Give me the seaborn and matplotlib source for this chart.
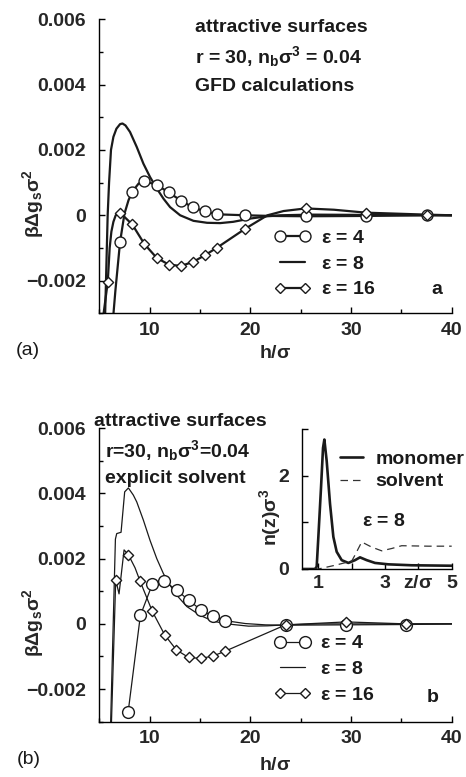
import matplotlib
matplotlib.use("Agg")
import matplotlib.pyplot as plt
import seaborn as sns
from matplotlib.lines import Line2D
from matplotlib.ticker import MultipleLocator

# ---------------- data ----------------
# panel (a): GFD calculations
a4_h = [6.3, 6.6, 7.06, 7.5, 7.9, 8.27, 8.9, 9.48, 10.69, 11.9, 13.1, 14.3, 15.5, 16.7, 19.5, 22.0, 25.5, 31.5, 37.5, 40.0]
a4_g = [-0.0034, -0.0023, -0.00082, 0.00005, 0.00046, 0.00072, 0.00097, 0.00105, 0.00093, 0.0007, 0.00045, 0.00024, 0.00012, 0.00003, 0.0, -0.00002, -0.00003, -0.00002, 0.0, 0.0]
a4_mh = [7.06, 8.27, 9.48, 10.69, 11.9, 13.1, 14.3, 15.5, 16.7, 19.5, 25.5, 31.5, 37.5]
a4_mg = [-0.00082, 0.00072, 0.00105, 0.00093, 0.0007, 0.00045, 0.00024, 0.00012, 0.00003, 0.0, -0.00003, -0.00002, 0.0]

a8_h = [5.5, 5.83, 5.97, 6.16, 6.4, 6.7, 7.06, 7.3, 7.6, 8.05, 8.72, 9.38, 10.04, 10.71, 11.37, 12.03, 13.03, 14.35, 15.7, 17.0, 18.3, 20.0, 21.7, 23.0, 26.0, 32.0, 40.0]
a8_g = [-0.004, 0.0, 0.001, 0.002, 0.0024, 0.00265, 0.00279, 0.00281, 0.00275, 0.00255, 0.00209, 0.00158, 0.00117, 0.00082, 0.00051, 0.00025, 0.0, -0.00017, -0.00023, -0.00024, -0.0002, -0.0001, -0.00003, 0.0, 0.00002, 0.00001, 0.0]

a16_h = [5.3, 5.84, 6.03, 6.2, 6.4, 6.63, 7.06, 8.27, 9.48, 10.69, 11.9, 13.1, 14.3, 15.5, 16.7, 19.5, 21.7, 23.3, 25.5, 28.3, 31.5, 37.5, 40.0]
a16_g = [-0.0033, -0.00204, -0.001, -0.0005, -0.0002, 0.0, 0.00008, -0.00028, -0.00088, -0.0013, -0.00151, -0.00155, -0.00143, -0.00122, -0.00099, -0.00041, 0.0, 0.00013, 0.00021, 0.00017, 0.00008, 0.00002, 0.0]
a16_mh = [5.84, 7.06, 8.27, 9.48, 10.69, 11.9, 13.1, 14.3, 15.5, 16.7, 19.5, 25.5, 31.5, 37.5]
a16_mg = [-0.00204, 0.00008, -0.00028, -0.00088, -0.0013, -0.00151, -0.00155, -0.00143, -0.00122, -0.00099, -0.00041, 0.00021, 0.00008, 0.00002]

# panel (b): explicit solvent
b4_h = [7.87, 9.08, 10.27, 11.47, 12.68, 13.9, 15.09, 16.28, 17.5, 19.5, 21.5, 23.5, 29.5, 35.5, 40.0]
b4_g = [-0.00269, 0.00026, 0.00122, 0.0013, 0.00104, 0.00072, 0.00043, 0.00023, 0.0001, 0.00001, -0.00003, -0.00004, -0.00003, -0.00002, 0.0]
b4_mh = [7.87, 9.08, 10.27, 11.47, 12.68, 13.9, 15.09, 16.28, 17.5, 23.5, 29.5, 35.5]
b4_mg = [-0.00269, 0.00026, 0.00122, 0.0013, 0.00104, 0.00072, 0.00043, 0.00023, 0.0001, -0.00004, -0.00003, -0.00002]

b8_h = [6.12, 6.6, 6.73, 7.16, 7.52, 7.89, 8.38, 8.72, 9.38, 10.04, 10.71, 11.37, 12.03, 12.86, 13.7, 15.02, 16.34, 17.68, 19.83, 21.7, 23.5, 27.0, 40.0]
b8_g = [-0.0031, 0.0026, 0.00277, 0.00281, 0.00405, 0.00417, 0.00395, 0.00374, 0.00318, 0.00256, 0.002, 0.00154, 0.00118, 0.00082, 0.00053, 0.00026, 0.00008, 0.0, -0.00007, -0.00006, -0.00003, 0.0, 0.0]

b16_h = [6.2, 6.63, 6.96, 7.46, 7.89, 8.55, 9.05, 10.27, 11.5, 12.66, 13.87, 15.06, 16.26, 17.48, 23.5, 29.5, 35.5, 40.0]
b16_g = [-0.0031, 0.00135, 0.00092, 0.00227, 0.00212, 0.00172, 0.00131, 0.00038, -0.00034, -0.0008, -0.00103, -0.00106, -0.00099, -0.00084, -0.00003, 0.00006, 0.0, 0.0]
b16_mh = [6.63, 7.89, 9.05, 10.27, 11.5, 12.66, 13.87, 15.06, 16.26, 17.48, 23.5, 29.5, 35.5]
b16_mg = [0.00135, 0.00212, 0.00131, 0.00038, -0.00034, -0.0008, -0.00103, -0.00106, -0.00099, -0.00084, -0.00003, 0.00006, 0.0]

# inset: density profiles at eps = 8
z_mono = [0.5, 0.9, 0.95, 1.0, 1.08, 1.14, 1.18, 1.25, 1.35, 1.45, 1.55, 1.7, 1.9, 2.1, 2.25, 2.45, 2.7, 3.1, 3.8, 5.0]
n_mono = [0.0, 0.0, 0.05, 0.69, 1.75, 2.6, 2.78, 2.32, 1.4, 0.69, 0.37, 0.19, 0.13, 0.19, 0.25, 0.19, 0.13, 0.1, 0.08, 0.07]
z_solv = [0.5, 1.0, 1.5, 2.0, 2.1, 2.3, 2.6, 2.9, 3.2, 3.5, 4.3, 5.0]
n_solv = [0.0, 0.0, 0.08, 0.17, 0.3, 0.58, 0.47, 0.39, 0.44, 0.5, 0.49, 0.49]

eps_labels = ['$\\mathrm{\\varepsilon}$ = 4', '$\\mathrm{\\varepsilon}$ = 8', '$\\mathrm{\\varepsilon}$ = 16']
inset_labels = ['monomer', 'solvent']
y_ticks = [-0.002, 0.0, 0.002, 0.004, 0.006]
y_ticklabels = ['\u22120.002', '0', '0.002', '0.004', '0.006']
x_ticks = [10, 20, 30, 40]
in_xticks = [1, 2, 3, 4, 5]
in_xticklabels = ['1', '', '3', 'z/$\\mathrm{\\sigma}$', '5']
in_yticks = [0, 1, 2, 3]
in_yticklabels = ['0', '', '2', '']

# ---------------- style ----------------
sns.set_theme(style='ticks')
plt.rcParams['font.family'] = ['Liberation Sans', 'DejaVu Sans']
plt.rcParams.update({
    'font.weight': 'bold',
    'font.size': 14,
    'axes.labelweight': 'bold',
    'axes.labelsize': 14,
    'xtick.labelsize': 14,
    'ytick.labelsize': 14,
    'mathtext.fontset': 'custom',
    'mathtext.rm': 'Liberation Sans',
    'mathtext.bf': 'Liberation Sans:bold',
    'mathtext.it': 'Liberation Sans:italic',
    'text.color': '#1a1a1a',
    'axes.edgecolor': 'black',
    'axes.linewidth': 1.0,
})
INK = '#1a1a1a'
DASH = '#333333'

fig = plt.figure(figsize=(4.66, 7.77), dpi=100)
axA = fig.add_axes([0.2131, 0.5968, 0.7562, 0.3784])
axB = fig.add_axes([0.2131, 0.0712, 0.7562, 0.3776])
axI = fig.add_axes([0.6474, 0.2677, 0.3219, 0.1798])


def curve(ax, h, g, lw):
    sns.lineplot(x=h, y=g, ax=ax, color=INK, lw=lw, estimator=None,
                 sort=False, legend=False, zorder=2)


def marks(ax, h, g, marker, s):
    sns.scatterplot(x=h, y=g, ax=ax, marker=marker, s=s, facecolor='white',
                    edgecolor=INK, linewidth=1.0, zorder=3, legend=False)


def frame(ax):
    ax.set_xlim(5, 40)
    ax.set_ylim(-0.003, 0.006)
    ax.set_xticks(x_ticks)
    ax.set_xticklabels([str(t) for t in x_ticks])
    ax.set_yticks(y_ticks, y_ticklabels)
    ax.xaxis.set_minor_locator(MultipleLocator(5))
    ax.yaxis.set_minor_locator(MultipleLocator(0.001))
    ax.tick_params(which='both', direction='in', width=1, color='black')
    ax.tick_params(which='major', length=4.5)
    ax.tick_params(which='minor', length=3)
    ax.tick_params(axis='y', which='major', pad=9.5)
    ax.tick_params(axis='x', which='major', pad=6)
    sns.despine(ax=ax)
    ax.set_xlabel('h/$\\mathrm{\\sigma}$')
    ax.set_ylabel('$\\mathrm{\\beta\\Delta}$g$_\\mathbf{s}\\mathrm{\\sigma}^\\mathbf{2}$')


# ---- panel a ----
curve(axA, a4_h, a4_g, 1.6)
curve(axA, a8_h, a8_g, 1.6)
curve(axA, a16_h, a16_g, 1.6)
marks(axA, a4_mh, a4_mg, 'o', 62)
marks(axA, a16_mh, a16_mg, 'D', 27)
frame(axA)
axA.xaxis.set_label_coords(0.5, -0.108)
axA.yaxis.set_label_coords(-0.152, 0.372)

hA = [Line2D([], [], color=INK, lw=1.6, marker='o', ms=7.9, mfc='white', mec=INK, mew=1.0),
      Line2D([], [], color=INK, lw=1.6),
      Line2D([], [], color=INK, lw=1.6, marker='D', ms=5.2, mfc='white', mec=INK, mew=1.0)]
axA.legend(hA, eps_labels, loc='upper left', bbox_to_anchor=(0.497, 0.286),
           frameon=False, numpoints=2, handlelength=1.85, handletextpad=0.55,
           labelspacing=0.42, borderpad=0, borderaxespad=0, fontsize=14)

fig.text(0.418, 0.964, 'attractive surfaces', ha='left', va='center', fontsize=14)
fig.text(0.418, 0.927, 'r = 30, n$_\\mathbf{b}\\mathrm{\\sigma}^\\mathbf{3}$ = 0.04', ha='left', va='center', fontsize=14)
fig.text(0.418, 0.889, 'GFD calculations', ha='left', va='center', fontsize=14)
fig.text(0.938, 0.628, 'a', ha='center', va='center', fontsize=14)
fig.text(0.034, 0.5495, '(a)', ha='left', va='center', fontsize=14, fontweight='normal')

# ---- panel b ----
curve(axB, b4_h, b4_g, 0.9)
curve(axB, b8_h, b8_g, 0.9)
curve(axB, b16_h, b16_g, 0.9)
marks(axB, b4_mh, b4_mg, 'o', 72)
marks(axB, b16_mh, b16_mg, 'D', 27)
frame(axB)
axB.xaxis.set_label_coords(0.5, -0.122)
axB.yaxis.set_label_coords(-0.152, 0.336)

hB = [Line2D([], [], color=INK, lw=0.9, marker='o', ms=8.5, mfc='white', mec=INK, mew=1.0),
      Line2D([], [], color=INK, lw=0.9),
      Line2D([], [], color=INK, lw=0.9, marker='D', ms=5.2, mfc='white', mec=INK, mew=1.0)]
axB.legend(hB, eps_labels, loc='upper left', bbox_to_anchor=(0.497, 0.296),
           frameon=False, numpoints=2, handlelength=1.85, handletextpad=0.5,
           labelspacing=0.42, borderpad=0, borderaxespad=0, fontsize=14)

fig.text(0.2017, 0.4573, 'attractive surfaces', ha='left', va='center', fontsize=14)
fig.text(0.2253, 0.4206, 'r=30, n$_\\mathbf{b}\\mathrm{\\sigma}^\\mathbf{3}$=0.04', ha='left', va='center', fontsize=14)
fig.text(0.2253, 0.3848, 'explicit solvent', ha='left', va='center', fontsize=14)
fig.text(0.929, 0.1017, 'b', ha='center', va='center', fontsize=14)
fig.text(0.036, 0.0219, '(b)', ha='left', va='center', fontsize=14, fontweight='normal')

# ---- inset ----
sns.lineplot(x=z_mono, y=n_mono, ax=axI, color=INK, lw=1.9, estimator=None,
             sort=False, legend=False)
sns.lineplot(x=z_solv, y=n_solv, ax=axI, color=DASH, lw=0.9, estimator=None,
             sort=False, legend=False, dashes=False, linestyle=(0, (6, 4)))
axI.set_xlim(0.5, 5)
axI.set_ylim(0, 3)
axI.set_xticks(in_xticks, in_xticklabels)
axI.set_yticks(in_yticks, in_yticklabels)
axI.tick_params(which='both', direction='in', length=4, width=1, color='black')
axI.tick_params(axis='y', pad=9)
axI.tick_params(axis='x', pad=4)
axI.set_facecolor('none')
sns.despine(ax=axI)
axI.set_ylabel('n(z)$\\mathrm{\\sigma}^\\mathbf{3}$')
axI.yaxis.set_label_coords(-0.125, 0.37)
axI.set_xlabel('')
hI = [Line2D([], [], color=INK, lw=1.9),
      Line2D([], [], color=DASH, lw=0.9, linestyle=(0, (6, 4)))]
axI.legend(hI, inset_labels, loc='upper left', bbox_to_anchor=(0.255, 0.85),
           frameon=False, handlelength=1.2, handletextpad=0.62,
           labelspacing=0.25, borderpad=0, borderaxespad=0, fontsize=14)
fig.text(0.7768, 0.3286, '$\\mathrm{\\varepsilon}$ = 8', ha='left', va='center', fontsize=14)

fig.savefig('out.png', dpi=100)
